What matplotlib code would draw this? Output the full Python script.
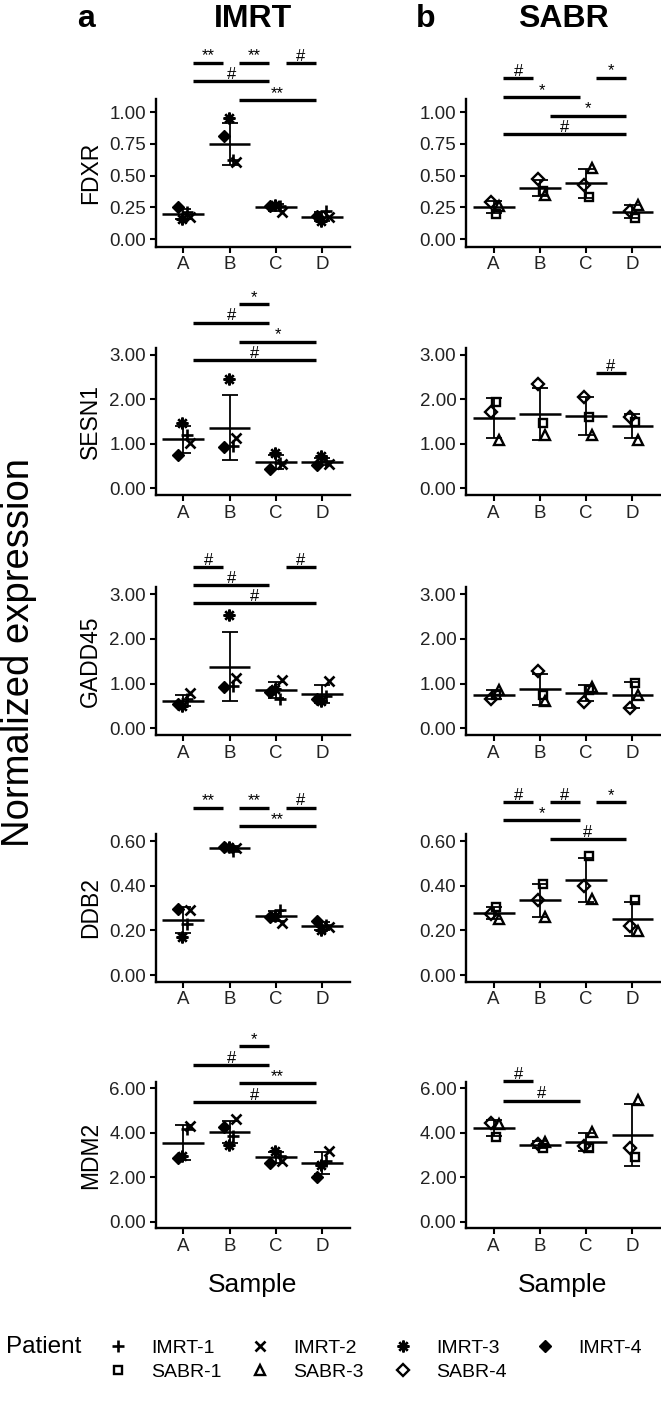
import numpy as np
import matplotlib
matplotlib.use('Agg')
import matplotlib.pyplot as plt
from matplotlib.lines import Line2D

plt.rcParams['font.family'] = ['Liberation Sans', 'DejaVu Sans']

samples = ['A', 'B', 'C', 'D']
genes = ['FDXR', 'SESN1', 'GADD45', 'DDB2', 'MDM2']
imrt_patients = ['IMRT-1', 'IMRT-2', 'IMRT-3', 'IMRT-4']
sabr_patients = ['SABR-1', 'SABR-3', 'SABR-4']

# rows = patients, columns = samples A-D
imrt_fdxr = [[0.21, 0.62, 0.26, 0.22],
             [0.17, 0.61, 0.21, 0.17],
             [0.16, 0.95, 0.27, 0.14],
             [0.25, 0.81, 0.26, 0.18]]
imrt_sesn1 = [[1.20, 0.95, 0.58, 0.62],
              [1.01, 1.13, 0.55, 0.55],
              [1.46, 2.45, 0.80, 0.72],
              [0.75, 0.94, 0.43, 0.52]]
imrt_gadd45 = [[0.65, 0.95, 0.66, 0.72],
               [0.78, 1.12, 1.08, 1.06],
               [0.50, 2.52, 0.88, 0.62],
               [0.55, 0.92, 0.80, 0.66]]
imrt_ddb2 = [[0.23, 0.555, 0.29, 0.225],
             [0.29, 0.57, 0.235, 0.215],
             [0.17, 0.575, 0.265, 0.20],
             [0.297, 0.575, 0.26, 0.24]]
imrt_mdm2 = [[4.15, 3.85, 2.95, 2.75],
             [4.30, 4.61, 2.75, 3.20],
             [2.95, 3.45, 3.20, 2.55],
             [2.85, 4.28, 2.65, 2.03]]

sabr_fdxr = [[0.20, 0.38, 0.333, 0.163],
             [0.26, 0.35, 0.556, 0.268],
             [0.29, 0.47, 0.425, 0.22]]
sabr_sesn1 = [[1.95, 1.48, 1.61, 1.50],
              [1.09, 1.20, 1.20, 1.09],
              [1.72, 2.34, 2.06, 1.61]]
sabr_gadd45 = [[0.74, 0.74, 0.85, 1.02],
               [0.86, 0.60, 0.92, 0.75],
               [0.66, 1.27, 0.58, 0.46]]
sabr_ddb2 = [[0.305, 0.407, 0.533, 0.338],
             [0.25, 0.26, 0.342, 0.196],
             [0.275, 0.338, 0.398, 0.218]]
sabr_mdm2 = [[3.80, 3.30, 3.30, 2.93],
             [4.38, 3.60, 4.05, 5.48],
             [4.45, 3.50, 3.40, 3.30]]

# significance: (from, to, height, label)
imrt_sig = [
    [('A', 'B', 1.388, '**'), ('B', 'C', 1.388, '**'), ('C', 'D', 1.388, '#'),
     ('A', 'C', 1.244, '#'), ('B', 'D', 1.094, '**')],
    [('B', 'C', 4.14, '*'), ('A', 'C', 3.73, '#'), ('B', 'D', 3.30, '*'),
     ('A', 'D', 2.88, '#')],
    [('A', 'B', 3.61, '#'), ('C', 'D', 3.61, '#'), ('A', 'C', 3.20, '#'),
     ('A', 'D', 2.79, '#')],
    [('A', 'B', 0.750, '**'), ('B', 'C', 0.750, '**'), ('C', 'D', 0.750, '#'),
     ('B', 'D', 0.665, '**')],
    [('B', 'C', 7.91, '*'), ('A', 'C', 7.06, '#'), ('B', 'D', 6.23, '**'),
     ('A', 'D', 5.39, '#')],
]
sabr_sig = [
    [('A', 'B', 1.27, '#'), ('C', 'D', 1.27, '*'), ('A', 'C', 1.12, '*'),
     ('B', 'D', 0.971, '*'), ('A', 'D', 0.824, '#')],
    [('C', 'D', 2.60, '#')],
    [],
    [('A', 'B', 0.775, '#'), ('B', 'C', 0.775, '#'), ('C', 'D', 0.775, '*'),
     ('A', 'C', 0.695, '*'), ('B', 'D', 0.609, '#')],
    [('A', 'B', 6.31, '#'), ('A', 'C', 5.45, '#')],
]

ylims = [(-0.06, 1.10), (-0.15, 3.15), (-0.15, 3.15), (-0.03, 0.63), (-0.3, 6.3)]
yticks = [[0, 0.25, 0.5, 0.75, 1.0], [0, 1, 2, 3], [0, 1, 2, 3],
          [0, 0.2, 0.4, 0.6], [0, 2, 4, 6]]

markers = {
    'IMRT-1': dict(marker='+', ms=8.5, mew=1.9, color='black'),
    'IMRT-2': dict(marker='x', ms=6.5, mew=1.9, color='black'),
    'IMRT-3': dict(marker=(8, 2, 0), ms=8.5, mew=1.7, color='black'),
    'IMRT-4': dict(marker='D', ms=6, mew=1.0, color='black'),
    'SABR-1': dict(marker='s', ms=6, mew=1.7, mec='black', mfc='none'),
    'SABR-3': dict(marker='^', ms=7, mew=1.7, mec='black', mfc='none'),
    'SABR-4': dict(marker='D', ms=6, mew=1.7, mec='black', mfc='none'),
}
offsets = {'IMRT-1': 0.08, 'IMRT-2': 0.14, 'IMRT-3': -0.02, 'IMRT-4': -0.12,
           'SABR-1': 0.06, 'SABR-3': 0.12, 'SABR-4': -0.05}

W, H = 661.0, 1406.0
fig = plt.figure(figsize=(W / 100, H / 100), dpi=100)

col_px = [(155.5, 350.0), (466.0, 660.0)]
row_px = [(99.3, 246.7), (348.3, 495.0), (587.3, 735.0), (834.3, 981.7), (1081.7, 1228.3)]

columns = [
    (imrt_patients, [imrt_fdxr, imrt_sesn1, imrt_gadd45, imrt_ddb2, imrt_mdm2], imrt_sig),
    (sabr_patients, [sabr_fdxr, sabr_sesn1, sabr_gadd45, sabr_ddb2, sabr_mdm2], sabr_sig),
]

x = np.arange(len(samples))
for c, (patients, gene_data, sigs) in enumerate(columns):
    x0, x1 = col_px[c]
    for r, gene in enumerate(genes):
        top, bot = row_px[r]
        ax = fig.add_axes([x0 / W, 1 - bot / H, (x1 - x0) / W, (bot - top) / H])
        vals = np.array(gene_data[r])
        for p, pat in enumerate(patients):
            ax.plot(x + offsets[pat], vals[p], linestyle='none', zorder=3,
                    clip_on=False, **markers[pat])
        mean = vals.mean(axis=0)
        sd = vals.std(axis=0, ddof=1)
        ax.hlines(mean, x - 0.45, x + 0.45, color='black', lw=1.8, zorder=2)
        ax.errorbar(x, mean, yerr=sd, fmt='none', ecolor='black', elinewidth=1.3,
                    capsize=5.5, capthick=1.3, zorder=2)

        for a, b, h, lab in sigs[r]:
            xa = samples.index(a) + 0.21
            xb = samples.index(b) - 0.14
            ax.plot([xa, xb], [h, h], color='black', lw=2.4, clip_on=False,
                    solid_capstyle='butt')
            ax.annotate(lab, ((xa + xb) / 2, h), xytext=(0, 1.5),
                        textcoords='offset points', ha='center', va='baseline',
                        fontsize=12, annotation_clip=False)

        ax.set_xlim(-0.6, 3.6)
        ax.set_ylim(*ylims[r])
        ax.set_xticks(x)
        ax.set_xticklabels(samples)
        ax.set_yticks(yticks[r])
        ax.set_yticklabels(['%.2f' % t for t in yticks[r]])
        for s in ['top', 'right']:
            ax.spines[s].set_visible(False)
        for s in ['left', 'bottom']:
            ax.spines[s].set_linewidth(1.7)
        ax.tick_params(direction='out', length=4, width=1.5, labelsize=13.5,
                       labelcolor='#222222', pad=3)
        ax.patch.set_alpha(0)

        if c == 0:
            fig.text(90.6 / W, 1 - (top + bot) / 2 / H, gene, rotation=90,
                     ha='center', va='center', fontsize=16.5)

# column titles
fig.text(86 / W, 1 - 19 / H, 'a', fontsize=23, fontweight='bold', ha='center', va='center')
fig.text(253 / W, 1 - 19 / H, 'IMRT', fontsize=23, fontweight='bold', ha='center', va='center')
fig.text(426 / W, 1 - 19 / H, 'b', fontsize=23, fontweight='bold', ha='center', va='center')
fig.text(563 / W, 1 - 19 / H, 'SABR', fontsize=23, fontweight='bold', ha='center', va='center')

fig.text(19 / W, 1 - 652 / H, 'Normalized expression', rotation=90, fontsize=27.5,
         ha='center', va='center')
fig.text(253 / W, 1 - 1285 / H, 'Sample', fontsize=19, ha='center', va='center')
fig.text(563 / W, 1 - 1285 / H, 'Sample', fontsize=19, ha='center', va='center')

# legend
fig.text(44 / W, 1 - 1347 / H, 'Patient', fontsize=17.5, ha='center', va='center')
order = ['IMRT-1', 'SABR-1', 'IMRT-2', 'SABR-3', 'IMRT-3', 'SABR-4', 'IMRT-4']
handles = [Line2D([], [], linestyle='none', **markers[p]) for p in order]
fig.legend(handles, order, ncol=4, loc='center left',
           bbox_to_anchor=(81 / W, 1 - 1360 / H), frameon=False, fontsize=14,
           handlelength=2.0, handletextpad=0.7, columnspacing=1.0,
           labelspacing=0.35, borderpad=0.4)

fig.savefig('out.png', dpi=100)
